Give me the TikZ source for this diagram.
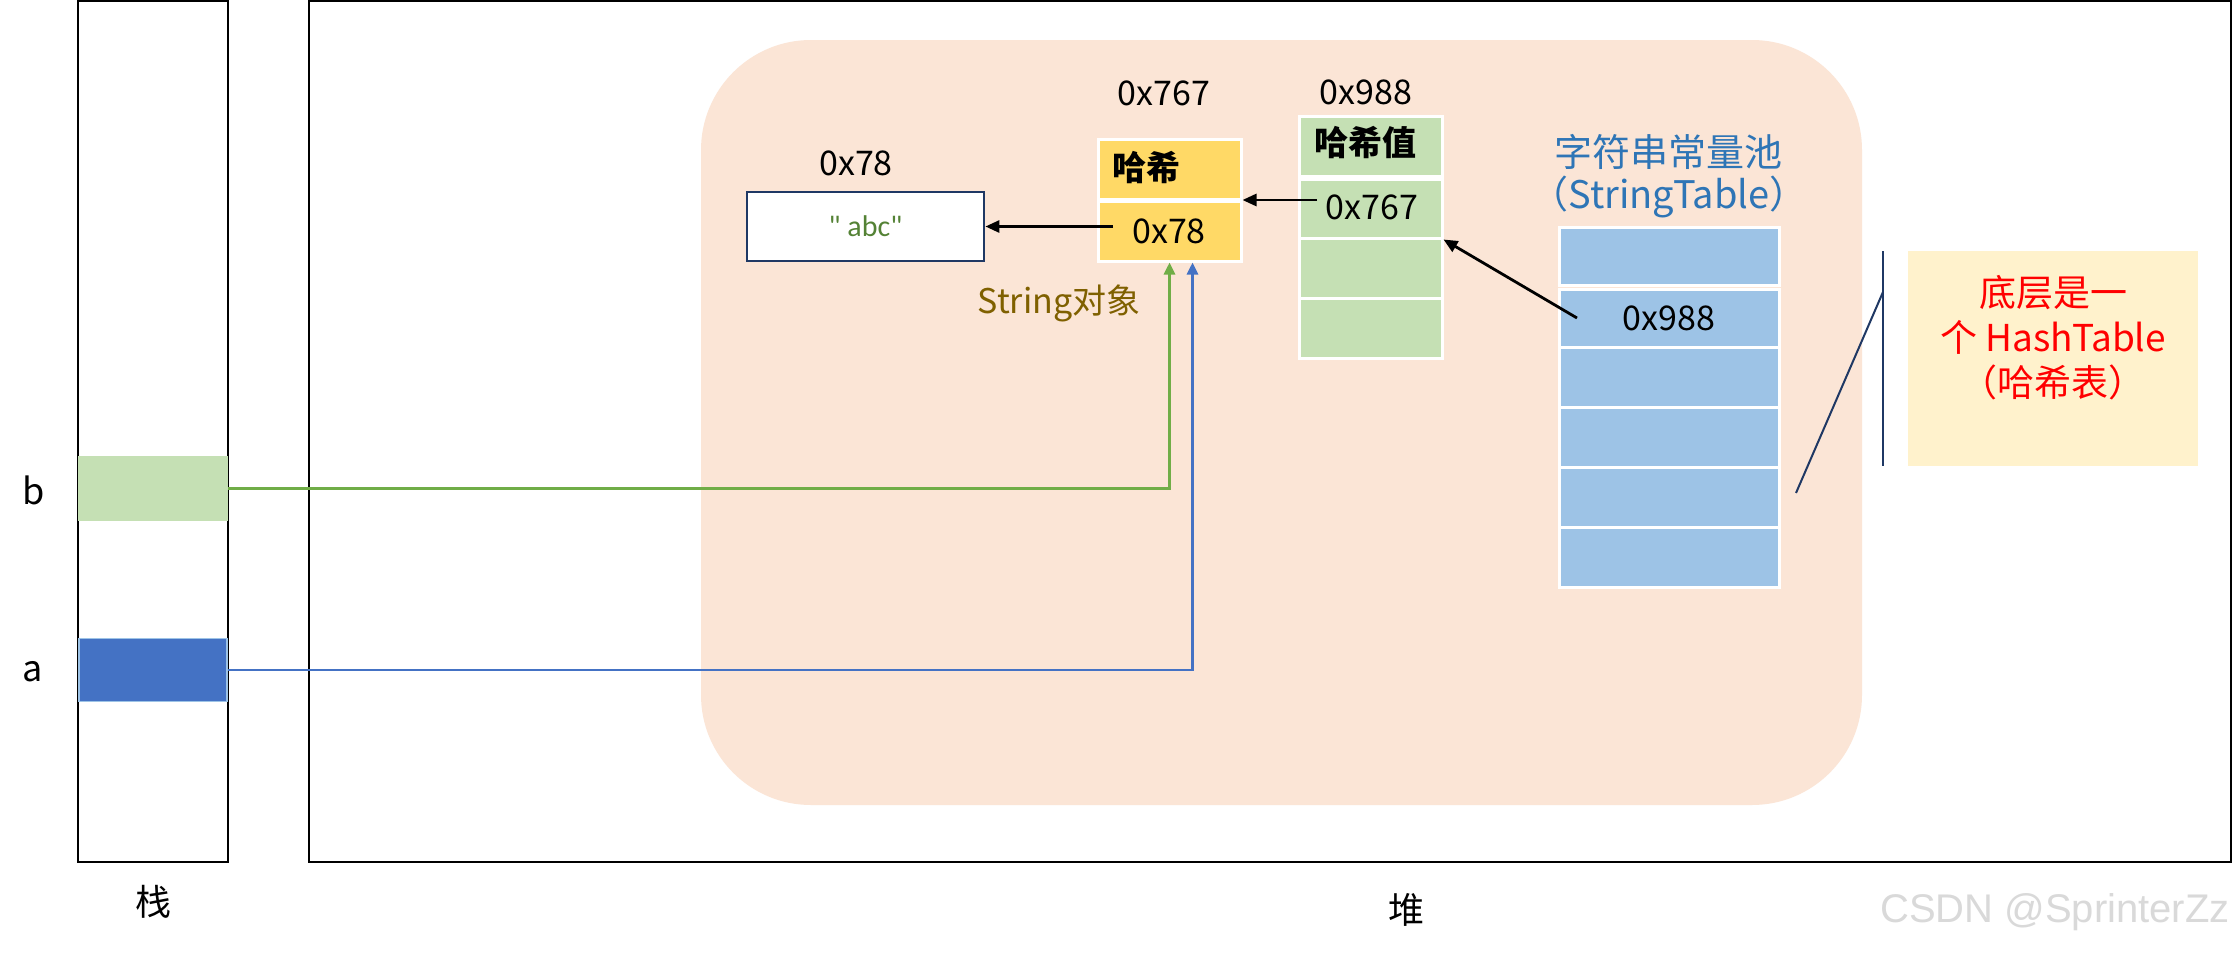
\documentclass[tikz,border=0pt]{standalone}
\usepackage{fontspec}
\setmainfont{Noto Sans CJK SC}
\newfontfamily\wmfont{Liberation Sans}
\newfontfamily\abcfont[Ligatures=NoCommon]{Carlito}
\usetikzlibrary{arrows.meta}
\definecolor{peach}{HTML}{FBE5D6}
\definecolor{ycell}{HTML}{FFD966}
\definecolor{gcell}{HTML}{C5E0B4}
\definecolor{bcellc}{HTML}{9DC3E6}
\definecolor{notey}{HTML}{FFF2CC}
\definecolor{navy}{HTML}{1F3864}
\definecolor{olive}{HTML}{7F6000}
\definecolor{poolblue}{HTML}{2E75B6}
\definecolor{abcgreen}{HTML}{548235}
\definecolor{lgreen}{HTML}{70AD47}
\definecolor{mblue}{HTML}{4472C4}
\begin{document}
\begin{tikzpicture}[x=0.5pt,y=-0.5pt,
  txt/.style={inner sep=0pt,font=\fontsize{17}{20}\selectfont},
  cell/.style={draw=white,line width=1.5pt,inner sep=0pt},
  blk/.style={draw=black,line width=1.4pt,-{Triangle[length=7pt,width=6pt]}},
  gline/.style={draw=lgreen,line width=1.4pt,-{Triangle[length=6pt,width=5.5pt]}},
  bline/.style={draw=mblue,line width=1.4pt,-{Triangle[length=6pt,width=5.5pt]}},
  frame/.style={draw=black,line width=0.9pt}]
\useasboundingbox (0,0) rectangle (2235,953);
\fill[white] (0,0) rectangle (2235,953);
% stack and heap frames
\node[frame,inner sep=0pt,minimum width=75pt,minimum height=430.5pt] (stack) at (153,431.5) {};
\node[frame,inner sep=0pt,minimum width=961pt,minimum height=430.5pt] (heap) at (1270,431.5) {};
% peach region
\fill[peach,rounded corners=55pt] (701,40) rectangle (1862,805);
% stack cells
\node[fill=gcell,inner sep=0pt,minimum width=75pt,minimum height=32.5pt] (bcell) at (153,488.5) {};
\node[fill=mblue,draw=bcellc,line width=0.8pt,inner sep=0pt,minimum width=74pt,minimum height=31.5pt] (acell) at (153,670) {};
\node[txt,font=\fontsize{18}{20}\selectfont] (blab) at (34,490) {b};
\node[txt,font=\fontsize{18}{20}\selectfont] (alab) at (33,672) {a};
\node[txt,font=\fontsize{18}{20}\selectfont] (stacklab) at (153,902) {栈};
\node[txt,font=\fontsize{18}{20}\selectfont] (heaplab) at (1406,910) {堆};
% abc object
\node[txt] (l78) at (856,163) {0x78};
\node[draw=navy,line width=1.4pt,fill=white,inner sep=0pt,minimum width=118.5pt,minimum height=34.5pt,
      font=\abcfont\fontsize{15}{17}\selectfont,text=abcgreen] (abc) at (865.5,226.5) {\char34\ abc\char34};
% String object
\node[txt] (l767) at (1164,93) {0x767};
\node[cell,fill=ycell,minimum width=71.5pt,minimum height=30pt] (y1) at (1169.5,169) {};
\node[cell,fill=ycell,minimum width=71.5pt,minimum height=30pt] (y2) at (1169.5,231) {};
\node[txt,anchor=west,font=\fontsize{17}{20}\selectfont\bfseries] (hx) at (1112,168) {哈希};
\node[txt] (y2t) at (1169,231) {0x78};
\node[txt,text=olive] (strobj) at (1059,303) {String对象};
% hash value column
\node[txt] (l988) at (1366,92) {0x988};
\node[cell,fill=gcell,minimum width=71.5pt,minimum height=30pt] (g1) at (1370.5,146) {};
\node[cell,fill=gcell,minimum width=71.5pt,minimum height=29.5pt] (g2) at (1370.5,208.5) {};
\node[cell,fill=gcell,minimum width=71.5pt,minimum height=30pt] (g3) at (1370.5,268) {};
\node[cell,fill=gcell,minimum width=71.5pt,minimum height=30pt] (g4) at (1370.5,328) {};
\node[txt,anchor=west,font=\fontsize{17}{20}\selectfont\bfseries] (hxz) at (1314,143) {哈希值};
\node[txt] (g2t) at (1372,207) {0x767};
% string table
\node[txt,font=\fontsize{19}{22}\selectfont,text=poolblue] (pool1) at (1668,152) {字符串常量池};
\node[txt,font=\fontsize{19}{22}\selectfont,text=poolblue] (pool2) at (1669,197) {（StringTable）};
\node[cell,fill=bcellc,minimum width=110pt,minimum height=29pt] (t1) at (1669,256) {};
\node[cell,fill=bcellc,minimum width=110pt,minimum height=29pt] (t2) at (1669,318) {};
\node[cell,fill=bcellc,minimum width=110pt,minimum height=30pt] (t3) at (1669,377) {};
\node[cell,fill=bcellc,minimum width=110pt,minimum height=30pt] (t4) at (1669,437) {};
\node[cell,fill=bcellc,minimum width=110pt,minimum height=30pt] (t5) at (1669,497) {};
\node[cell,fill=bcellc,minimum width=110pt,minimum height=30pt] (t6) at (1669,557) {};
\node[txt] (t2t) at (1669,318) {0x988};
% note
\node[fill=notey,inner sep=0pt,minimum width=145pt,minimum height=107.5pt] (note) at (2053,358.5) {};
\node[txt,font=\fontsize{18.5}{22.5}\selectfont,text=red,align=center] (notet) at (2053,338) {底层是一\\个 HashTable\\（哈希表）};
\coordinate (n1) at (1796,493);
\coordinate (n2) at (1883,292);
\coordinate (v1) at (1883,251);
\coordinate (v2) at (1883,466);
\draw[navy,line width=1pt] (n1) -- (n2);
\draw[navy,line width=1pt] (v1) -- (v2);
% arrows
\coordinate (s1) at (1113,226.5);
\coordinate (s2) at (1317,200);
\coordinate (s3) at (1577,318);
\draw[blk] (s1) -- (abc.east);
\draw[blk] (s2) -- (s2 -| y1.east);
\draw[blk] (s3) -- (g2.south east);
\draw[gline] (bcell.east) -| (y2.south);
\draw[bline] (acell.east) -| ([xshift=11.5pt]y2.south);
% watermark
\node[inner sep=0pt,font=\wmfont\fontsize{20}{22}\selectfont,text=black!15] (wm) at (2055,912) {CSDN @SprinterZz};
\end{tikzpicture}
\end{document}
